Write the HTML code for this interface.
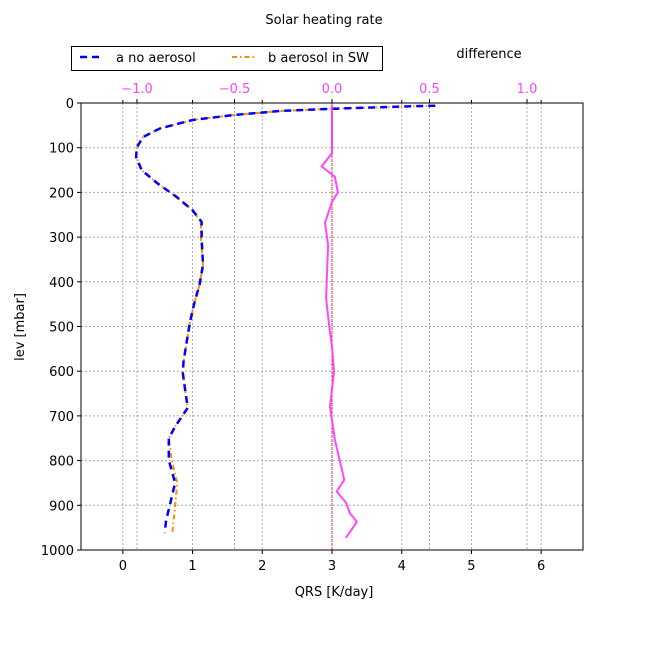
<!DOCTYPE html>
<html><head><meta charset="utf-8"><style>
body{margin:0;background:#fff}
svg text{font-family:"DejaVu Sans","Liberation Sans",sans-serif}
</style></head><body>
<svg id="c" width="648" height="648" viewBox="0 0 648 648"></svg>
<script>
const levA=[6,8,13,18,27,38,57,76,99,121,150,179,210,240,266,302,362,407,445,492,530,579,604,682,724,750,799,850,903,933,962];
const valA=[4.48,3.97,3.0,2.25,1.58,1.0,0.53,0.29,0.2,0.19,0.27,0.49,0.77,1.0,1.13,1.13,1.15,1.1,1.03,0.96,0.92,0.87,0.86,0.93,0.75,0.66,0.66,0.75,0.67,0.62,0.6];
const valB=[4.48,3.97,3.0,2.25,1.58,1.0,0.53,0.29,0.2,0.19,0.27,0.49,0.77,1.0,1.12,1.12,1.15,1.1,1.03,0.96,0.92,0.87,0.86,0.93,0.75,0.66,0.7,0.78,0.75,0.73,0.71];
const levD=[6,112,142,165,200,221,268,318,436,497,545,601,679,754,843,869,894,918,937,951,973];
const valD=[0,0,-0.053,0.015,0.03,0,-0.036,-0.02,-0.03,-0.015,0,0.01,-0.01,0.015,0.063,0.024,0.072,0.092,0.127,0.106,0.07];
const xTicks=[0,1,2,3,4,5,6];
const topTicks=[-1.0,-0.5,0.0,0.5,1.0];
const topLabels=["\u22121.0","\u22120.5","0.0","0.5","1.0"];
const yTicks=[0,100,200,300,400,500,600,700,800,900,1000];

const L=81,R=583,T=103,B=550;
const x=v=>L+(v+0.6)/7.2*(R-L);
const xt=v=>L+(v+1.287)/2.574*(R-L);
const y=v=>T+v/1000*(B-T);
const svg=document.getElementById('c');
const NS='http://www.w3.org/2000/svg';
function el(tag,attrs,parent){const e=document.createElementNS(NS,tag);for(const k in attrs)e.setAttribute(k,attrs[k]);(parent||svg).appendChild(e);return e;}
function txt(s,attrs){const e=el('text',attrs);e.textContent=s;return e;}

// grid
xTicks.forEach(v=>{const g=el('line',{x1:x(v),x2:x(v),y1:T,y2:B,stroke:'#aaa','stroke-dasharray':'2,2','stroke-width':1});

});
topTicks.forEach(v=>{const g=el('line',{x1:xt(v),x2:xt(v),y1:T,y2:B,stroke:'#aaa','stroke-dasharray':'2,2','stroke-width':1});

});
yTicks.forEach(v=>{const g=el('line',{x1:L,x2:R,y1:y(v),y2:y(v),stroke:'#aaa','stroke-dasharray':'2,2','stroke-width':1});

});

// zero diff line
const z=el('line',{x1:xt(0),x2:xt(0),y1:T,y2:B,stroke:'#e33','stroke-dasharray':'3,1','stroke-width':1});



function pts(vals,levs,f){return vals.map((v,i)=>f(v).toFixed(1)+','+y(levs[i]).toFixed(1)).join(' ');}
const pb=el('polyline',{points:pts(valB,levA,x),fill:'none',stroke:'#ff8c00','stroke-width':2,'stroke-dasharray':'5,3,1.5,3'});


const pa=el('polyline',{points:pts(valA,levA,x),fill:'none',stroke:'#0000ff','stroke-width':2.5,'stroke-dasharray':'7,5'});


const pd=el('polyline',{points:pts(valD,levD,xt),fill:'none',stroke:'#ff33ff','stroke-opacity':0.9,'stroke-width':2});



// frame
const fr=el('rect',{x:L,y:T,width:R-L,height:B-T,fill:'none',stroke:'#000','stroke-width':1});



// ticks & labels
xTicks.forEach(v=>{el('line',{x1:x(v),x2:x(v),y1:B,y2:B+4,stroke:'#000'});el('line',{x1:x(v),x2:x(v),y1:T,y2:T-3,stroke:'#000'});
const t=txt(String(v),{x:x(v),y:570,'text-anchor':'middle','font-size':13});

});
topTicks.forEach((v,i)=>{el('line',{x1:xt(v),x2:xt(v),y1:T,y2:T-4,stroke:'#000'});
const t=txt(topLabels[i],{x:xt(v),y:93,'text-anchor':'middle','font-size':13,fill:'#ff44ff'});

});
yTicks.forEach(v=>{el('line',{x1:L,x2:L-4,y1:y(v),y2:y(v),stroke:'#000'});
const t=txt(String(v),{x:74,y:y(v)+5,'text-anchor':'end','font-size':13});

});
</script>
<svg width="648" height="648" style="position:absolute;left:0;top:0">
<text x="324" y="24" text-anchor="middle" font-size="13">Solar heating rate</text>
<text x="489" y="58" text-anchor="middle" font-size="13">difference</text>
<text x="334" y="596" text-anchor="middle" font-size="13">QRS [K/day]</text>
<text transform="translate(24,327) rotate(-90)" text-anchor="middle" font-size="13">lev [mbar]</text>
<g>
<rect x="71.5" y="46.5" width="311" height="24" fill="#fff" stroke="#000"/>
<line x1="80" x2="102" y1="57" y2="57" stroke="#00f" stroke-width="2.5" stroke-dasharray="7,5"/>
<text x="116" y="62" font-size="13">a no aerosol</text>
<line x1="232" x2="254" y1="57" y2="57" stroke="#ff8c00" stroke-width="2" stroke-dasharray="5,3,1.5,3"/>
<text x="268" y="62" font-size="13">b aerosol in SW</text>
</g>
</svg>
</body></html>
